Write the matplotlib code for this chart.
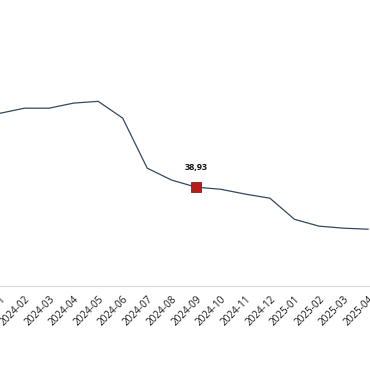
import matplotlib
matplotlib.use('Agg')
import matplotlib.pyplot as plt

# --- Data ---
months = ['2024-01', '2024-02', '2024-03', '2024-04', '2024-05', '2024-06',
          '2024-07', '2024-08', '2024-09', '2024-10', '2024-11', '2024-12',
          '2025-01', '2025-02', '2025-03', '2025-04']
values = [68.0, 70.0, 70.0, 72.0, 72.7, 66.1, 46.4, 41.7, 38.93, 38.1,
          36.2, 34.6, 26.3, 23.6, 22.8, 22.4]
highlight = '2024-09'

plt.rcParams['font.family'] = ['Open Sans', 'DejaVu Sans']

fig = plt.figure(figsize=(3.7, 3.8), dpi=100)
ax = fig.add_axes([0, 0.247, 1, 0.669])

x = list(range(len(months)))
ax.plot(x, values, color='#34495e', linewidth=0.9)

hi = months.index(highlight)
ax.plot(x[hi], values[hi], marker='s', markersize=7,
        markerfacecolor='#b71c1c', markeredgecolor='#8b1a1a',
        markeredgewidth=0.6, linestyle='none')
ax.annotate(f'{values[hi]:.2f}'.replace('.', ','), (x[hi], values[hi]),
            xytext=(0, 11), textcoords='offset points', ha='center',
            va='bottom', fontsize=6.5, fontweight='bold', color='#111111')

ax.set_xlim(0.28, 15.08)
ax.set_ylim(0, 100)
ax.set_xticks(x)
ax.set_xticklabels(months, rotation=45, ha='right', rotation_mode='anchor',
                   fontsize=7.2, color='#1a1a1a')
ax.tick_params(axis='x', length=0, pad=5.5)
ax.set_yticks([])
for s in ['top', 'left', 'right']:
    ax.spines[s].set_visible(False)
ax.spines['bottom'].set_color('#d9d9d9')
ax.spines['bottom'].set_linewidth(0.8)

fig.savefig('out.png', dpi=100)
